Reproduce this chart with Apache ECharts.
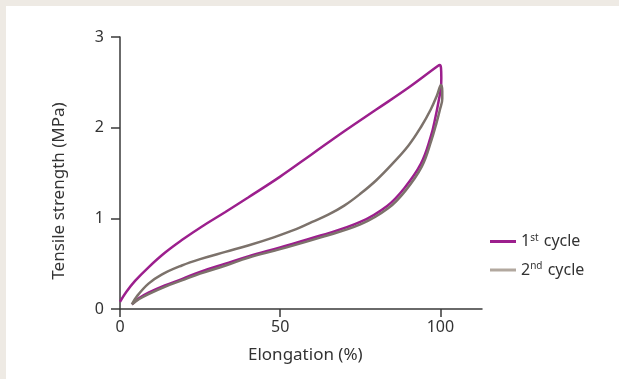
<!DOCTYPE html>
<html>
<head>
<meta charset="utf-8">
<script src="https://cdn.jsdelivr.net/npm/echarts@6/dist/echarts.min.js"></script>
<style>
    html, body {margin: 0; padding: 0; background: #eeeae4;}
    #chart {position: absolute; left: 6px; top: 6px; width: 613px; height: 373px; background: #fff;}
</style>
</head>
<body>
<div id="chart"></div>
<script>
    // 1st cycle: loading then unloading (elongation %, MPa)
    const cycle1 = [
        [0, 0.08], [2, 0.19], [4.7, 0.31], [8.9, 0.46], [14, 0.62], [19.3, 0.76], [25.6, 0.91],
        [32.9, 1.07], [40, 1.23], [50, 1.46], [60, 1.71], [70, 1.96], [80, 2.2], [90, 2.44],
        [99.2, 2.68], [99.8, 2.69], [100.2, 2.66], [100.3, 2.55], [100.2, 2.45],
        [99.5, 2.3], [98.5, 2.12], [97, 1.9], [93.9, 1.6], [88.7, 1.33], [83.5, 1.14], [75, 0.96],
        [62.6, 0.81], [50, 0.68], [40, 0.58], [32.9, 0.5], [25, 0.41], [19.3, 0.33], [14, 0.26],
        [8.9, 0.18], [6, 0.12], [3.7, 0.05]
    ];
    // 2nd cycle
    const cycle2 = [
        [3.7, 0.05], [5.5, 0.15], [8.9, 0.28], [13, 0.38], [19.3, 0.48], [25, 0.55], [32.9, 0.63],
        [40, 0.7], [48, 0.79], [55, 0.88], [60, 0.96], [65, 1.04], [70, 1.14], [75, 1.27],
        [80, 1.42], [85, 1.6], [90, 1.8], [94, 2.01], [97, 2.2], [99, 2.36], [100.2, 2.47],
        [100.6, 2.4], [100.6, 2.32], [99.8, 2.19], [98.7, 2.04], [97.2, 1.86], [94.2, 1.57],
        [89, 1.3], [83.7, 1.11], [75.2, 0.935], [62.7, 0.79], [50, 0.66], [40, 0.565], [33, 0.48],
        [25, 0.39], [19.3, 0.315], [14, 0.245], [8.9, 0.165], [6, 0.11], [3.7, 0.05]
    ];
    const seriesNames = ['1st cycle', '2nd cycle'];
    const xTicks = [0, 50, 100];
    const yTicks = [0, 1, 2, 3];

    const font = '"Noto Sans", "Open Sans", sans-serif';
    const axisColor = '#3a3a3a';
    const myChart = echarts.init(document.getElementById('chart'));
    myChart.setOption({
        animation: false,
        textStyle: {fontFamily: font, color: '#333'},
        grid: {left: 114, top: 31, right: 137, bottom: 70},
        xAxis: {
            type: 'value',
            min: 0,
            max: 113,
            interval: 50,
            splitLine: {show: false},
            axisLine: {lineStyle: {color: axisColor, width: 1.5}},
            axisTick: {length: 8, customValues: xTicks, lineStyle: {color: axisColor, width: 1.5}},
            axisLabel: {customValues: xTicks, margin: 10, fontSize: 16, color: '#333', fontFamily: font}
        },
        yAxis: {
            type: 'value',
            min: 0,
            max: 3,
            interval: 1,
            splitLine: {show: false},
            axisLine: {show: true, lineStyle: {color: axisColor, width: 1.5}},
            axisTick: {show: true, length: 9, customValues: yTicks, lineStyle: {color: axisColor, width: 1.5}},
            axisLabel: {customValues: yTicks, margin: 16, fontSize: 16, color: '#333', fontFamily: font}
        },
        legend: {
            orient: 'vertical',
            left: 479,
            top: 222,
            icon: 'rect',
            itemWidth: 26,
            itemHeight: 3,
            itemGap: 12,
            data: [
                {name: seriesNames[0], itemStyle: {color: '#9c1f8d'}},
                {name: seriesNames[1], itemStyle: {color: '#b2a89f'}}
            ],
            formatter: (name) => name.replace(/^(\d)(st|nd)/, '$1{sup|$2}'),
            textStyle: {
                fontSize: 16,
                color: '#333',
                fontFamily: font,
                rich: {sup: {fontSize: 10, padding: [0, 1, 7, 0], color: '#333', fontFamily: font}}
            }
        },
        graphic: [
            {
                type: 'text',
                left: 242,
                top: 341,
                style: {text: 'Elongation (%)', font: '17px ' + font, fill: '#333'}
            },
            {
                type: 'text',
                x: 53,
                y: 185,
                rotation: Math.PI / 2,
                style: {
                    text: 'Tensile strength (MPa)', font: '17px ' + font, fill: '#333',
                    align: 'center', verticalAlign: 'middle'
                }
            }
        ],
        series: [
            {
                name: seriesNames[0],
                type: 'line',
                data: cycle1,
                symbol: 'none',
                smooth: 0.4,
                lineStyle: {color: '#9c1f8d', width: 2.5},
                itemStyle: {color: '#9c1f8d'}
            },
            {
                name: seriesNames[1],
                type: 'line',
                data: cycle2,
                symbol: 'none',
                smooth: 0.4,
                lineStyle: {color: '#7c726b', width: 2.5},
                itemStyle: {color: '#7c726b'}
            }
        ]
    });
</script>
</body>
</html>
